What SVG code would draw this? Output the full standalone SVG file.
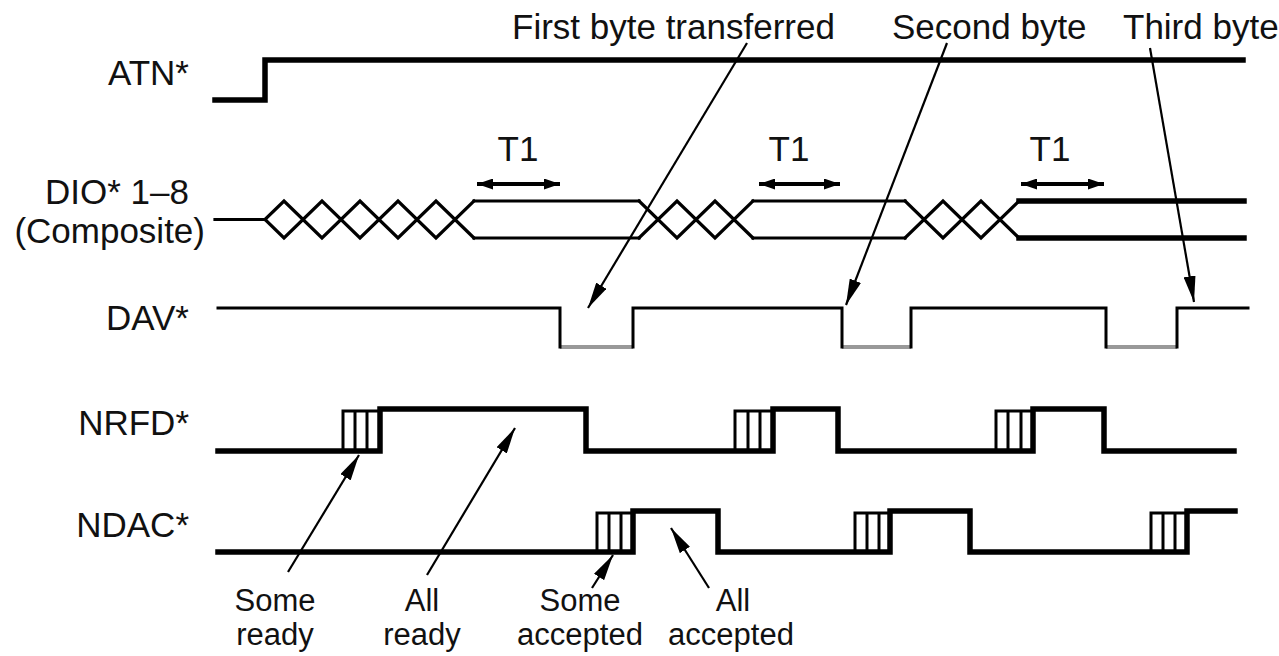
<svg xmlns="http://www.w3.org/2000/svg" width="1279" height="656" viewBox="0 0 1279 656">
<style>
text{font-family:"Liberation Sans",Arial,sans-serif;font-size:35px;fill:#111}
.lbl{text-anchor:end}
.mid{text-anchor:middle}
.bl{font-size:31px}
.sig{fill:none;stroke:#000;stroke-linejoin:miter;stroke-linecap:square}
.thick{stroke-width:5.5}
.bus{stroke-width:3.2}
.thin{stroke-width:3}
.low{fill:none;stroke:#999;stroke-width:4}
.box{fill:none;stroke:#000;stroke-width:3}
.ann{fill:none;stroke:#000;stroke-width:2.2}
.t1{fill:none;stroke:#000;stroke-width:4}
</style>
<defs>
<marker id="ah" markerUnits="userSpaceOnUse" markerWidth="26" markerHeight="12" refX="26" refY="6" orient="auto">
<path d="M0,0 L26,6 L0,12 z" fill="#000"/>
</marker>
<marker id="th" markerUnits="userSpaceOnUse" markerWidth="16" markerHeight="11" refX="16" refY="5.5" orient="auto-start-reverse">
<path d="M0,0 L16,5.5 L0,11 z" fill="#000"/>
</marker>
</defs>

<g id="titles">
<text x="512" y="39">First byte transferred</text>
<text x="892" y="39">Second byte</text>
<text x="1123" y="39">Third byte</text>
</g>

<g id="atn">
<text class="lbl" x="189" y="85">ATN*</text>
<polyline class="sig thick" points="215,100 265,100 265,60 1243,60"/>
</g>

<g id="dio">
<text class="lbl" x="189" y="204">DIO* 1–8</text>
<text class="lbl" x="205" y="243">(Composite)</text>
<path class="sig bus" d="M215,219.5 H265"/>
<path class="sig bus" d="M265,219.5 L284,201 L322,238 L360,201 L398,238 L436,201 L474,238 M265,219.5 L284,238 L322,201 L360,238 L398,201 L436,238 L474,201"/>
<path class="sig bus" d="M474,201 H639 M474,238 H639"/>
<path class="sig bus" d="M639,201 L677,238 L715,201 L753,238 M639,238 L677,201 L715,238 L753,201"/>
<path class="sig bus" d="M753,201 H905 M753,238 H905"/>
<path class="sig bus" d="M905,201 L943,238 L981,201 L1019,238 M905,238 L943,201 L981,238 L1019,201"/>
<path class="sig thick" d="M1019,201 H1244 M1019,238 H1244"/>
</g>

<g id="t1">
<text class="mid" x="518" y="161">T1</text>
<text class="mid" x="789" y="161">T1</text>
<text class="mid" x="1050" y="161">T1</text>
<line class="t1" x1="477" y1="184" x2="560" y2="184" marker-start="url(#th)" marker-end="url(#th)"/>
<line class="t1" x1="759" y1="184" x2="840" y2="184" marker-start="url(#th)" marker-end="url(#th)"/>
<line class="t1" x1="1021" y1="184" x2="1104" y2="184" marker-start="url(#th)" marker-end="url(#th)"/>
</g>

<g id="dav">
<text class="lbl" x="189" y="330">DAV*</text>
<path class="low" d="M560,347 H633 M842,347 H911 M1106,347 H1177"/>
<path class="sig thin" d="M218,308 H560 V347 M633,347 V308 H842 V347 M911,347 V308 H1106 V347 M1177,347 V308 H1248"/>
</g>

<g id="nrfd">
<text class="lbl" x="189" y="435">NRFD*</text>
<path class="box" d="M343,451 V411 H380 M355,411 V451 M367,411 V451"/>
<path class="box" d="M735,451 V411 H773 M748,411 V451 M760,411 V451"/>
<path class="box" d="M996,451 V411 H1033 M1008,411 V451 M1021,411 V451"/>
<path class="sig thick" d="M218,451 H380 V409 H586 V451 H773 V409 H838 V451 H1033 V409 H1104 V451 H1234"/>
</g>

<g id="ndac">
<text class="lbl" x="189" y="537">NDAC*</text>
<path class="box" d="M597,552 V513 H633 M609,513 V552 M621,513 V552"/>
<path class="box" d="M855,552 V513 H890 M867,513 V552 M879,513 V552"/>
<path class="box" d="M1151,552 V513 H1187 M1163,513 V552 M1175,513 V552"/>
<path class="sig thick" d="M218,552 H633 V511 H718 V552 H890 V511 H970 V552 H1187 V511 H1235"/>
</g>

<g id="bottom-labels">
<text class="mid bl" x="275" y="611">Some</text>
<text class="mid bl" x="275" y="645">ready</text>
<text class="mid bl" x="422" y="611">All</text>
<text class="mid bl" x="422" y="645">ready</text>
<text class="mid bl" x="580" y="611">Some</text>
<text class="mid bl" x="580" y="645">accepted</text>
<text class="mid bl" x="733" y="611">All</text>
<text class="mid bl" x="731" y="645">accepted</text>
</g>

<g id="connectors">
<line class="ann" x1="747" y1="43" x2="588" y2="308" marker-end="url(#ah)"/>
<line class="ann" x1="947" y1="43" x2="846" y2="305" marker-end="url(#ah)"/>
<line class="ann" x1="1150" y1="48" x2="1194" y2="302" marker-end="url(#ah)"/>
<line class="ann" x1="288" y1="572" x2="359" y2="455" marker-end="url(#ah)"/>
<line class="ann" x1="427" y1="575" x2="515" y2="428" marker-end="url(#ah)"/>
<line class="ann" x1="592" y1="588" x2="613" y2="555" marker-end="url(#ah)"/>
<line class="ann" x1="709" y1="588" x2="671" y2="528" marker-end="url(#ah)"/>
</g>
</svg>
